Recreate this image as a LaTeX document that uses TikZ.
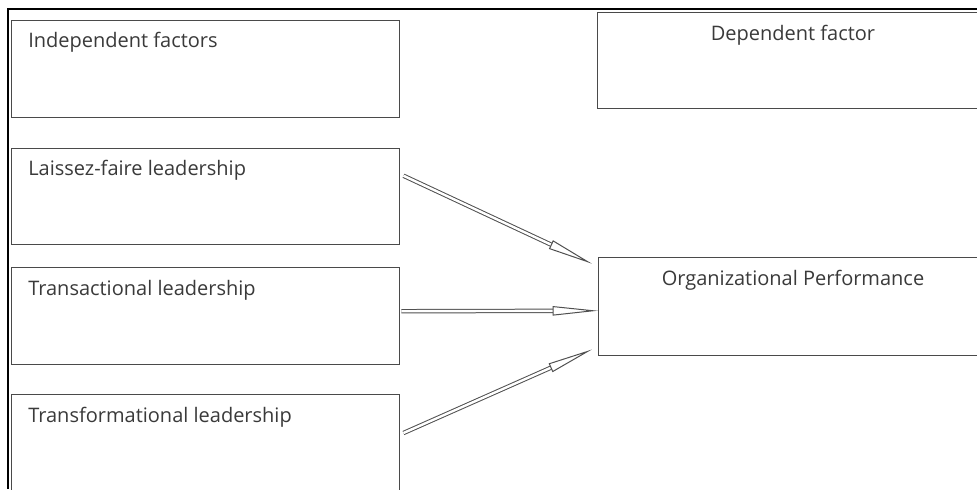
\documentclass[tikz,border=0pt]{standalone}
\usepackage{fontspec}
\setmainfont{Open Sans}
\usetikzlibrary{arrows.meta,calc}
\definecolor{boxgray}{HTML}{4A4A4A}
\definecolor{txtgray}{HTML}{3A3A3A}
\definecolor{linegray}{HTML}{505050}
\begin{document}
\begin{tikzpicture}[x=0.75pt,y=-0.75pt,
  box/.style={draw=boxgray, line width=1.1pt, rectangle, inner sep=0pt, anchor=north west, minimum width=291pt},
  lbl/.style={text=txtgray, font=\fontsize{15}{18}\selectfont, inner sep=0pt},
  conn/.style={draw=linegray, line width=0.75pt, double=white, double distance=1.8pt, -{Triangle[open,length=34pt,width=7pt]}}]
\useasboundingbox (0,0) rectangle (977,489);
\fill[white] (0,0) rectangle (977,489);
\draw[black, line width=1.5pt] (977,9) -- (8,9) -- (8,489);
% boxes
\node[box, minimum height=72.75pt] (ind) at (11,20) {};
\node[box, minimum height=72pt] (lf) at (11,148) {};
\node[box, minimum height=72.75pt] (tr) at (11,267) {};
\node[box, minimum height=82.5pt] (tf) at (11,394) {};
\node[box, minimum width=300pt, minimum height=72pt] (dep) at (597,12) {};
\node[box, minimum width=300pt, minimum height=73.5pt] (org) at (598,257) {};
% labels
\node[lbl, anchor=west] (tind) at ($(ind.north west)+(17,22)$) {Independent factors};
\node[lbl, anchor=west] (tlf) at ($(lf.north west)+(17,22)$) {Laissez-faire leadership};
\node[lbl, anchor=west] (ttr) at ($(tr.north west)+(17,23)$) {Transactional leadership};
\node[lbl, anchor=west] (ttf) at ($(tf.north west)+(17,23)$) {Transformational leadership};
\node[lbl] (tdep) at ($(dep.north west)+(196,23)$) {Dependent factor};
\node[lbl] (torg) at ($(org.north west)+(195,23)$) {Organizational Performance};
% connectors
\draw[conn] ([shift={(3,-21)}]lf.east) -- ([shift={(-6,-43)}]org.west);
\draw[conn] ([shift={(1,-5)}]tr.east) -- ([shift={(0,4)}]org.west);
\draw[conn] ([shift={(3,39)}]tf.north east) -- ([shift={(-6,-7)}]org.south west);
\end{tikzpicture}
\end{document}
